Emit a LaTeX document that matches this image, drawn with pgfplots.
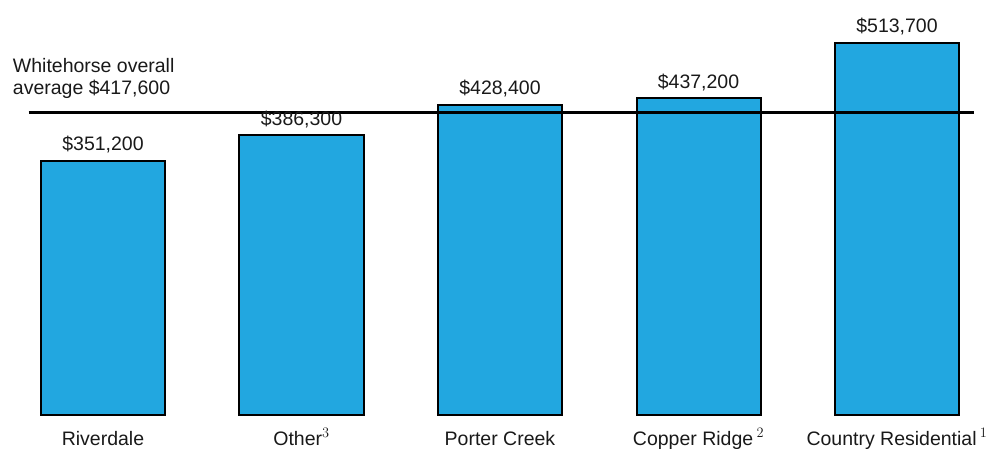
\documentclass[border=0pt]{standalone}
\usepackage{pgfplots}
\pgfplotsset{compat=1.18}
\usepackage{fontspec}
\setmainfont{Liberation Sans}
\definecolor{barblue}{RGB}{34,167,224}
\definecolor{txt}{RGB}{25,25,25}
\begin{document}
\begin{tikzpicture}
\begin{axis}[
  scale only axis,
  width=992.5pt, height=415pt,
  xmin=-0.5, xmax=4.5, ymin=0, ymax=573000,
  clip=false,
  axis lines=left,
  axis line style={draw=none},
  major tick length=0pt,
  ytick=\empty,
  xtick={0,1,2,3,4},
  xticklabels={Riverdale, Other$^{3}$, Porter Creek, Copper Ridge\,$^{2}$, Country Residential\,$^{1}$},
  xticklabel style={anchor=base, yshift=-30pt, font=\fontsize{19.5}{22}\selectfont, text=txt, inner sep=0pt},
]
\addplot[ybar, bar width=124pt, fill=barblue, draw=black, line width=2pt,
  nodes near coords={\$\pgfmathprintnumber[assume math mode=true, fixed, precision=0, 1000 sep={,}]{\pgfplotspointmeta}},
  every node near coord/.append style={anchor=base, yshift=10pt, inner sep=0pt, text=txt, font=\fontsize{19.5}{22}\selectfont}]
coordinates {(0,351200) (1,386300) (2,428400) (3,437200) (4,513700)};
\addplot[black, line width=2.5pt, mark=none] coordinates {(-0.375,417600) (4.39,417600)};
\end{axis}
\node[anchor=base west, align=left, inner sep=0pt, text=txt, font=\fontsize{19.5}{22}\selectfont] at (9pt,320pt) {Whitehorse overall\\average \$417,600};
\pgfresetboundingbox
\path[use as bounding box] (-3.75pt,-33pt) rectangle (990.25pt,415pt);
\end{tikzpicture}
\end{document}
